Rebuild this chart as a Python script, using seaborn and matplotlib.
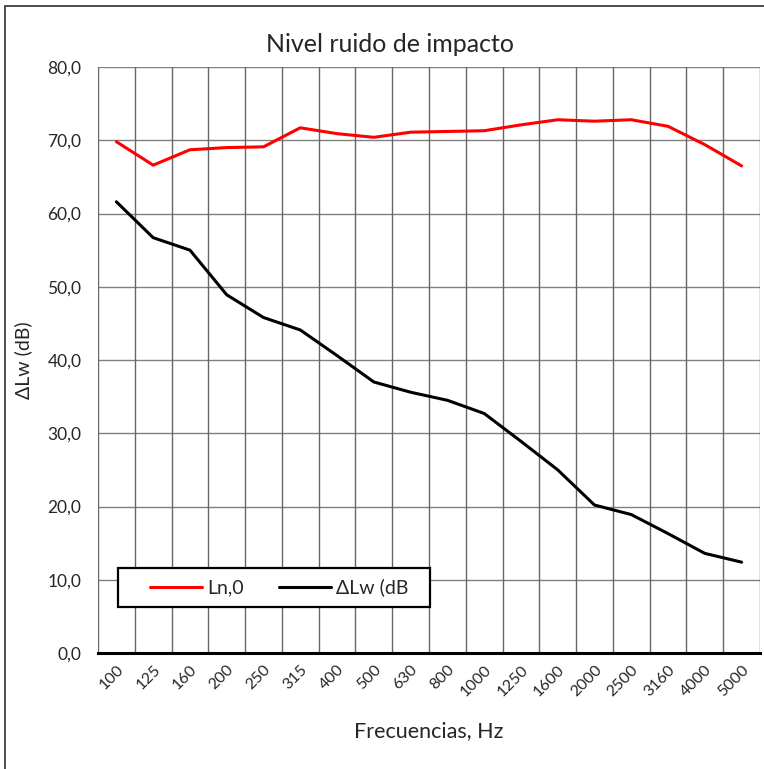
import pandas as pd
import matplotlib.pyplot as plt
import matplotlib.patches as mpatches
from matplotlib.ticker import FuncFormatter, MultipleLocator
import seaborn as sns

freqs = ["100", "125", "160", "200", "250", "315", "400", "500", "630",
         "800", "1000", "1250", "1600", "2000", "2500", "3160", "4000", "5000"]
ln0 = [69.8, 66.6, 68.7, 69.0, 69.1, 71.7, 70.9, 70.4, 71.1,
       71.2, 71.3, 72.1, 72.8, 72.6, 72.8, 71.9, 69.4, 66.5]
dlw = [61.6, 56.7, 55.0, 48.9, 45.8, 44.1, 40.6, 37.0, 35.6,
       34.5, 32.7, 28.9, 25.0, 20.2, 18.9, 16.3, 13.6, 12.4]

data = pd.DataFrame({"f": freqs * 2,
                     "v": ln0 + dlw,
                     "serie": ["Ln,0"] * len(freqs) + ["\u0394Lw (dB"] * len(freqs)})

sns.set_style("white")
plt.rcParams['font.family'] = ['Lato', 'DejaVu Sans']

W, H = 764, 769
f = plt.figure(figsize=(7.64, 7.69), dpi=100)
ax = f.add_axes([98/W, 116/H, 662/W, 586/H])

sns.lineplot(data=data, x="f", y="v", hue="serie",
             palette={"Ln,0": "#ff0000", "\u0394Lw (dB": "black"},
             linewidth=2.2, ax=ax)

ax.set_xlim(-0.5, len(freqs) - 0.5)
ax.set_ylim(0, 80)
ax.yaxis.set_major_locator(MultipleLocator(10))
ax.yaxis.set_major_formatter(FuncFormatter(lambda v, p: f"{v:.1f}".replace(".", ",")))

# grid: horizontal at tick values, vertical between categories
for y in range(10, 81, 10):
    ax.axhline(y, color="#808080", lw=1, zorder=0)
for i in range(len(freqs) + 1):
    ax.axvline(i - 0.5, color="#666666", lw=1, zorder=0)

for s in ["top", "right", "left"]:
    ax.spines[s].set_visible(False)
ax.spines["bottom"].set_color("black")
ax.spines["bottom"].set_linewidth(2.2)

ax.tick_params(axis="x", direction="out", length=4, width=1.5, color="black",
               labelsize=11.5, pad=3)
ax.tick_params(axis="y", length=0, labelsize=12.5, pad=12)
plt.setp(ax.get_xticklabels(), rotation=45, ha="right", rotation_mode="anchor")

ax.set_xlabel("Frecuencias, Hz", fontsize=15.5, labelpad=16)
ax.set_ylabel("\u0394Lw (dB)", fontsize=14)
ax.yaxis.set_label_coords((32 - 98) / 662, 0.5)
f.text(390/W, 1 - 45/H, "Nivel ruido de impacto", fontsize=18,
       ha="center", va="center")

# legend box drawn by hand so the entries sit centred in it
bx0, bx1, by0, by1 = 118, 430, 568, 607
ax.add_patch(mpatches.Rectangle(((bx0 - 98) / 662, (653 - by1) / 586),
                                (bx1 - bx0) / 662, (by1 - by0) / 586,
                                transform=ax.transAxes, facecolor="white",
                                edgecolor="black", lw=1.6, zorder=4))
leg = ax.legend(loc="center",
                bbox_to_anchor=(((bx0 + bx1) / 2 + 5 - 98) / 662, (653 - (by0 + by1) / 2) / 586),
                ncol=2, fontsize=14, frameon=False, handlelength=2.7,
                handletextpad=0.25, columnspacing=1.8, borderaxespad=0)
leg.set_zorder(5)
for line in leg.get_lines():
    line.set_linewidth(2.2)

# outer chart border
f.patches.append(mpatches.Rectangle((5/W, -0.05), 1.2, 1 - 6/H + 0.05,
                                    transform=f.transFigure, fill=False,
                                    edgecolor="#404040", lw=1.3))

f.savefig("out.png", dpi=100)
